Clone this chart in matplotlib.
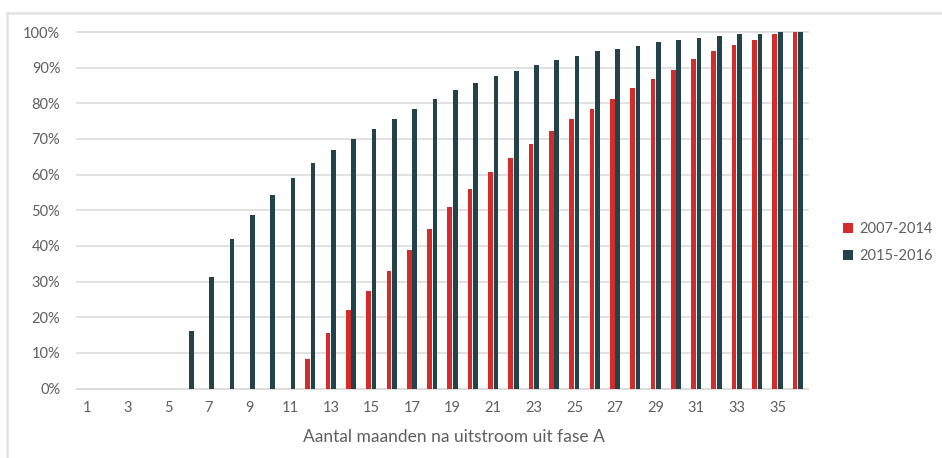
import numpy as np
import matplotlib.pyplot as plt
from matplotlib.lines import Line2D
from matplotlib.ticker import PercentFormatter

plt.rcParams['font.family'] = ['Lato', 'DejaVu Sans']

months = list(range(1, 37))

# cumulative share, 2007-2014 (no outflow before month 12)
p_2007_2014 = [0, 0, 0, 0, 0, 0, 0, 0, 0, 0, 0,
               8.4, 15.7, 21.9, 27.4, 32.9, 38.8, 44.8, 50.8, 56.0, 60.8, 64.7,
               68.5, 72.1, 75.7, 78.5, 81.3, 84.2, 86.8, 89.3, 92.3, 94.7, 96.4,
               97.8, 99.3, 100.0]

# cumulative share, 2015-2016 (starts at month 6)
p_2015_2016 = [0, 0, 0, 0, 0,
               16.0, 31.3, 41.9, 48.7, 54.3, 59.0, 63.2, 67.0, 70.1, 72.9, 75.7,
               78.4, 81.3, 83.6, 85.8, 87.6, 89.1, 90.7, 92.1, 93.2, 94.6, 95.2,
               96.2, 97.2, 97.8, 98.3, 98.8, 99.3, 99.5, 99.9, 100.0]

red = '#D42B2B'
dark = '#24424A'
grey_txt = '#5f5f5f'

fig = plt.figure(figsize=(9.42, 4.58), dpi=100)
ax = fig.add_axes([77 / 942, 1 - 388.5 / 458, 731 / 942, 356.5 / 458])

x = np.array(months)
w = 0.23
ax.bar(x - 0.14, np.array(p_2007_2014) / 100, width=w, color=red, label='2007-2014', zorder=3)
ax.bar(x + 0.13, np.array(p_2015_2016) / 100, width=w, color=dark, label='2015-2016', zorder=3)

ax.set_xlim(0.5, 36.5)
ax.set_ylim(0, 1.0)
ax.set_yticks(np.arange(0, 1.01, 0.1))
ax.yaxis.set_major_formatter(PercentFormatter(1.0, decimals=0))
ax.set_xticks(range(1, 37, 2))
ax.grid(axis='y', color='#dcdcdc', linewidth=1.2, zorder=0)
for ln in ax.get_ygridlines():
    ln.set_clip_on(False)
for s in ['top', 'right', 'left']:
    ax.spines[s].set_visible(False)
ax.spines['bottom'].set_color('#dcdcdc')
ax.spines['bottom'].set_linewidth(1.2)
ax.tick_params(axis='both', length=0, labelsize=10.5, labelcolor=grey_txt)
ax.tick_params(axis='x', pad=9)
ax.tick_params(axis='y', pad=12)
ax.set_xlabel('Aantal maanden na uitstroom uit fase A', fontsize=12.5, color=grey_txt)
ax.xaxis.set_label_coords((454 - 77) / 731, -(437 - 388.5) / 356.5)
ax.xaxis.label.set_va('center')

ax.legend(loc='center left', bbox_to_anchor=(1.03, 0.41), frameon=False,
          fontsize=10.5, labelcolor=grey_txt, handlelength=0.7, handleheight=0.7,
          handletextpad=0.4, labelspacing=0.9)

# light frame around the chart area (top and left edge)
fig.add_artist(Line2D([7 / 942, 1], [1 - 13 / 458, 1 - 13 / 458], color='#e2e2e2', linewidth=1.8))
fig.add_artist(Line2D([7 / 942, 7 / 942], [0, 1 - 13 / 458], color='#e2e2e2', linewidth=1.8))

fig.savefig('out.png', dpi=100)
